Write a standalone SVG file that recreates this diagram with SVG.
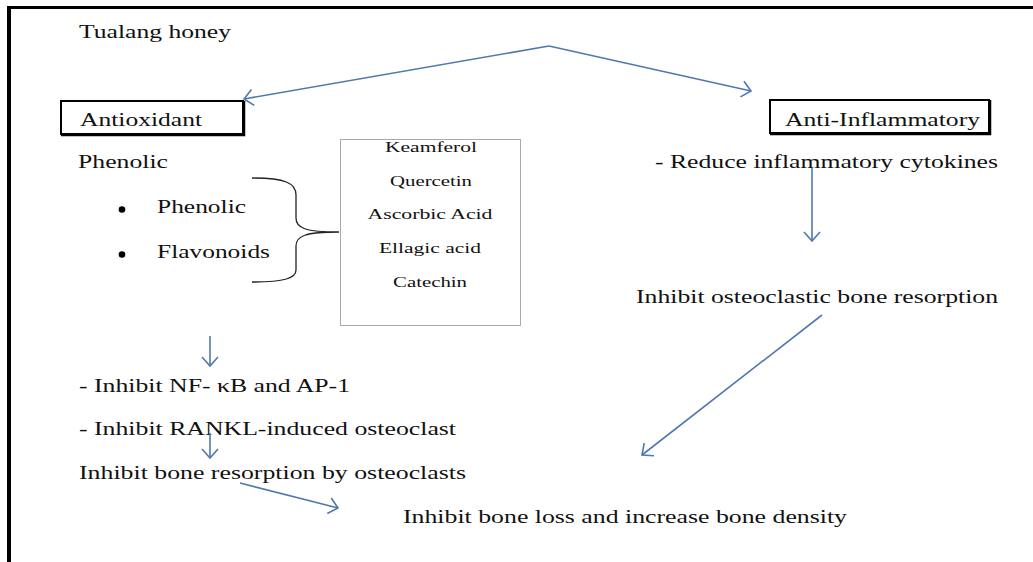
<svg xmlns="http://www.w3.org/2000/svg" width="1033" height="562" viewBox="0 0 1033 562">
<style>
text{font-family:"Liberation Serif","Times New Roman","DejaVu Serif",serif;fill:#111;font-size:18.5px}
.sm{font-size:14px}
.box{fill:#fff;stroke:#000;stroke-width:2}
.conn{stroke:#4f79ae;stroke-width:1.6;fill:none;marker-end:url(#arr)}
</style>
<defs>
<marker id="arr" markerUnits="userSpaceOnUse" markerWidth="24" markerHeight="24" viewBox="-12 -12 24 24" refX="0" refY="0" orient="auto">
<path d="M-9,-8 L0,0 L-9,8" fill="none" stroke="#4f79ae" stroke-width="1.6"/>
</marker>
</defs>
<rect width="1033" height="562" fill="#fff"/>
<g id="frame">
<line x1="7" y1="7.5" x2="1033" y2="7.5" stroke="#000" stroke-width="3"/>
<line x1="9" y1="6" x2="9" y2="562" stroke="#000" stroke-width="4"/>
</g>
<g id="tualang"><text x="79" y="38" textLength="152" lengthAdjust="spacingAndGlyphs">Tualang honey</text></g>
<g id="antioxidant">
<rect class="box" x="61" y="101" width="182" height="33"/>
<path d="M244,101 V135 H61" fill="none" stroke="#000" stroke-width="2.5"/>
<text x="80" y="126" textLength="122" lengthAdjust="spacingAndGlyphs">Antioxidant</text>
</g>
<g id="antiinflammatory">
<rect class="box" x="770" y="100" width="219" height="33"/>
<path d="M990,100 V134 H770" fill="none" stroke="#000" stroke-width="2.5"/>
<text x="785" y="126" textLength="195" lengthAdjust="spacingAndGlyphs">Anti-Inflammatory</text>
</g>
<g id="phenolic-list">
<text x="78" y="168" textLength="90" lengthAdjust="spacingAndGlyphs">Phenolic</text>
<circle cx="122" cy="209.5" r="3.3" fill="#000"/>
<text x="157" y="213" textLength="89" lengthAdjust="spacingAndGlyphs">Phenolic</text>
<circle cx="122" cy="254.5" r="3.3" fill="#000"/>
<text x="157" y="258" textLength="113" lengthAdjust="spacingAndGlyphs">Flavonoids</text>
<path d="M252,178 C285,178 296,183 296,195 V218 C296,228 305,232 339,232 C305,232 296,236 296,246 V270 C296,278 285,282 252,282" fill="none" stroke="#222" stroke-width="1.3"/>
</g>
<g id="compounds">
<rect x="340.5" y="139.5" width="180" height="186" fill="#fff" stroke="#aaa" stroke-width="1"/>
<text class="sm" x="431" y="152" text-anchor="middle" textLength="92" lengthAdjust="spacingAndGlyphs">Keamferol</text>
<text class="sm" x="431" y="186" text-anchor="middle" textLength="82" lengthAdjust="spacingAndGlyphs">Quercetin</text>
<text class="sm" x="430" y="219" text-anchor="middle" textLength="125" lengthAdjust="spacingAndGlyphs">Ascorbic Acid</text>
<text class="sm" x="430" y="253" text-anchor="middle" textLength="102" lengthAdjust="spacingAndGlyphs">Ellagic acid</text>
<text class="sm" x="430" y="287" text-anchor="middle" textLength="74" lengthAdjust="spacingAndGlyphs">Catechin</text>
</g>
<g id="cytokines"><text x="655" y="168" textLength="343" lengthAdjust="spacingAndGlyphs">- Reduce inflammatory cytokines</text></g>
<g id="osteoclastic"><text x="636" y="303" textLength="362" lengthAdjust="spacingAndGlyphs">Inhibit osteoclastic bone resorption</text></g>
<g id="nfkb"><text x="79" y="392" textLength="271" lengthAdjust="spacingAndGlyphs">- Inhibit NF- κB and AP-1</text></g>
<g id="rankl"><text x="79" y="435" textLength="377" lengthAdjust="spacingAndGlyphs">- Inhibit RANKL-induced osteoclast</text></g>
<g id="resorption"><text x="79" y="479" textLength="387" lengthAdjust="spacingAndGlyphs">Inhibit bone resorption by osteoclasts</text></g>
<g id="boneloss"><text x="403" y="523" textLength="444" lengthAdjust="spacingAndGlyphs">Inhibit bone loss and increase bone density</text></g>
<g id="connectors">
<path class="conn" d="M549,46 L244,99"/>
<path class="conn" d="M549,46 L751,91"/>
<path class="conn" d="M812,168 L812,241"/>
<path class="conn" d="M822,315 L642,455"/>
<path class="conn" d="M210,336 L210,366"/>
<path class="conn" d="M210,433 L210,458"/>
<path class="conn" d="M240,483 L338,508"/>
</g>
</svg>
